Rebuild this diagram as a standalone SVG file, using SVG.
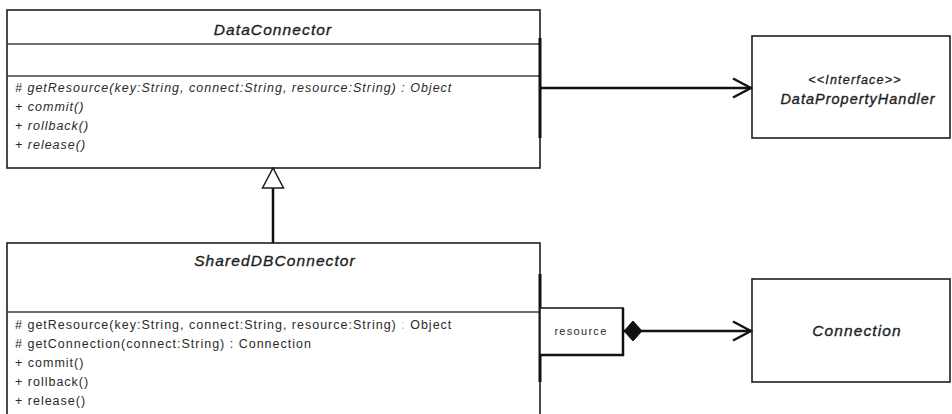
<svg xmlns="http://www.w3.org/2000/svg" width="952" height="414" viewBox="0 0 952 414">
<style>
.box{fill:#fff;stroke:#1e1e1e;stroke-width:1.6}
.sep{stroke:#3c3c3c;stroke-width:1.5}
.bar{stroke:#111;stroke-width:3}
.title{font-family:"Liberation Sans",Arial,sans-serif;font-size:15.5px;font-style:italic;fill:#1e1e1e;stroke:#1e1e1e;stroke-width:0.35px;text-anchor:middle;letter-spacing:1.1px}
.op{font-family:"Liberation Sans",Arial,sans-serif;font-size:12.5px;fill:#2a2a2a;letter-spacing:1px}
.it{font-style:italic}
.q{font-family:"Liberation Sans",Arial,sans-serif;font-size:11px;fill:#2a2a2a;text-anchor:middle;letter-spacing:1.3px}
.conn{stroke:#111;stroke-width:2.5;fill:none}
</style>
<defs>
<marker id="open" markerUnits="userSpaceOnUse" viewBox="0 0 22 22" refX="20" refY="11" markerWidth="22" markerHeight="22" orient="auto">
<path d="M2,1.5 L20,11 L2,20.5" fill="none" stroke="#111" stroke-width="2.5"/>
</marker>
<marker id="tri" markerUnits="userSpaceOnUse" viewBox="0 0 22 24" refX="21" refY="12" markerWidth="22" markerHeight="24" orient="auto">
<path d="M1,1.5 L21,12 L1,22.5 Z" fill="#fff" stroke="#1e1e1e" stroke-width="1.5"/>
</marker>
<marker id="dia" markerUnits="userSpaceOnUse" viewBox="0 0 20 22" refX="0.5" refY="11" markerWidth="20" markerHeight="22" orient="auto">
<path d="M0.5,11 L9.5,1 L18.5,11 L9.5,21 Z" fill="#111" stroke="#111" stroke-width="1"/>
</marker>
</defs>
<rect width="952" height="414" fill="#fff"/>

<g id="DataConnector">
<rect class="box" x="7" y="10" width="533" height="158"/>
<line class="sep" x1="7" y1="44" x2="540" y2="44"/>
<line class="sep" x1="7" y1="76" x2="540" y2="76"/>
<text class="title" x="273" y="35">DataConnector</text>
<text class="op it" x="15" y="92"># getResource(key:String, connect:String, resource:String) : Object</text>
<text class="op it" x="15" y="111">+ commit()</text>
<text class="op it" x="15" y="130">+ rollback()</text>
<text class="op it" x="15" y="149">+ release()</text>
<line class="bar" x1="540" y1="38" x2="540" y2="138"/>
</g>

<g id="DataPropertyHandler">
<rect class="box" x="752" y="36" width="198" height="102"/>
<text class="title" x="855" y="84" style="font-size:12.5px;letter-spacing:1.2px;stroke-width:0.3px">&lt;&lt;Interface&gt;&gt;</text>
<text class="title" x="858" y="104" style="font-size:14.5px;letter-spacing:1px">DataPropertyHandler</text>
</g>

<g id="SharedDBConnector">
<rect class="box" x="7" y="243" width="533" height="190"/>
<line class="sep" x1="7" y1="312" x2="540" y2="312"/>
<text class="title" x="275" y="266">SharedDBConnector</text>
<text class="op" x="15" y="329"># getResource(key:String, connect:String, resource:String) <tspan fill="#bbb">:</tspan> Object</text>
<text class="op" x="15" y="348"># getConnection(connect:String) : Connection</text>
<text class="op" x="15" y="367">+ commit()</text>
<text class="op" x="15" y="386">+ rollback()</text>
<text class="op" x="15" y="405">+ release()</text>
<line class="bar" x1="540" y1="274" x2="540" y2="382"/>
</g>

<g id="qualifier-resource">
<rect x="540" y="308" width="83" height="47" fill="#fff" stroke="#1e1e1e" stroke-width="1.6"/>
<line x1="623" y1="308" x2="623" y2="356" stroke="#111" stroke-width="2.5"/>
<line x1="540" y1="355" x2="624" y2="355" stroke="#111" stroke-width="2.5"/>
<text class="q" x="581" y="335">resource</text>
</g>

<g id="Connection">
<rect class="box" x="752" y="279" width="198" height="103"/>
<text class="title" x="857" y="336">Connection</text>
</g>

<g id="connectors">
<line class="conn" x1="541" y1="88" x2="751" y2="88" marker-end="url(#open)"/>
<line class="conn" x1="273" y1="243" x2="273" y2="168" marker-end="url(#tri)"/>
<line class="conn" x1="624" y1="331" x2="751" y2="331" marker-start="url(#dia)" marker-end="url(#open)"/>
</g>
</svg>
